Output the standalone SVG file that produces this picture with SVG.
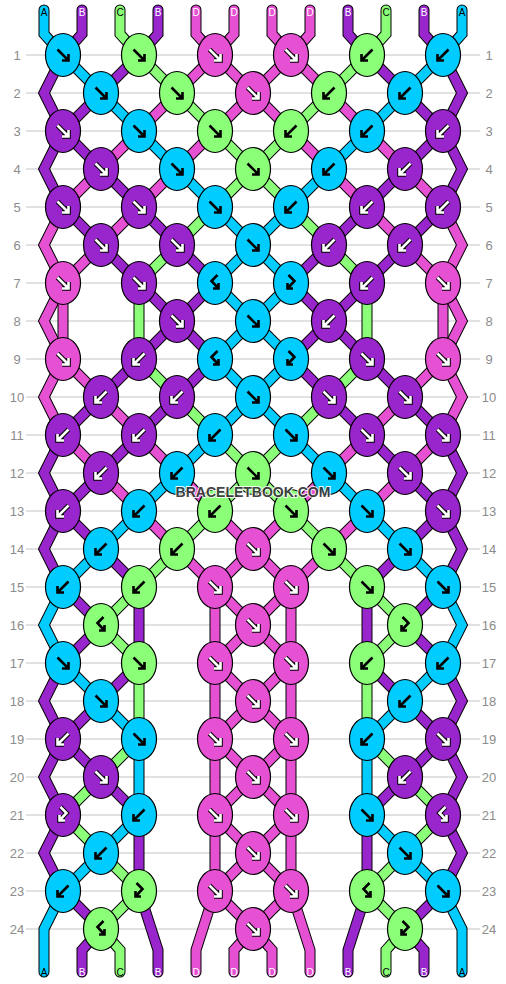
<svg xmlns="http://www.w3.org/2000/svg" xmlns:xlink="http://www.w3.org/1999/xlink" width="506" height="984" viewBox="0 0 506 984">
<style>
.rl{stroke:#c4c4c4;stroke-width:1;fill:none}
.num{font-family:"Liberation Sans",Arial,sans-serif;font-size:13px;fill:#8c8c8c;text-anchor:middle}
.o{fill:none;stroke:#000;stroke-width:11;stroke-linecap:round;stroke-linejoin:miter}
.sA,.sB,.sC,.sD{fill:none;stroke-width:9;stroke-linecap:round;stroke-linejoin:miter}
.sA{stroke:#00ccff}.sB{stroke:#9926cc}.sC{stroke:#8cff78}.sD{stroke:#e650d2}
.kA{fill:#00ccff}.kB{fill:#9926cc}.kC{fill:#8cff78}.kD{fill:#e650d2}
.ak{fill:none;stroke:#000;stroke-width:2.6;stroke-linejoin:miter}
.ao{fill:none;stroke:#000;stroke-width:4.6;stroke-linejoin:miter}
.aw{fill:none;stroke:#fff;stroke-width:2.6;stroke-linejoin:miter}
.lb{font-family:"Liberation Sans",Arial,sans-serif;font-size:10px;text-anchor:middle}
.lk{fill:#000}.lw{fill:#fff}
.wm{font-family:"Liberation Sans",Arial,sans-serif;font-weight:bold;font-size:14px;text-anchor:middle;fill:#333;stroke:#fff;stroke-width:2;paint-order:stroke;opacity:0.9}
</style>
<defs>
<ellipse id="e" rx="17.5" ry="21.5" stroke="#000" stroke-width="1.2"/>
<path id="pf" d="M-5.5,-5.5 L5.5,5.5 M5.5,-1 L5.5,5.5 L-1,5.5"/>
<path id="pb" d="M5.5,-5.5 L-5.5,5.5 M-5.5,-1 L-5.5,5.5 L1,5.5"/>
<path id="pfb" d="M-2.5,-8 L3.5,-2 L-3.5,5.5 M-3.5,0 L-3.5,5.5 L2,5.5"/>
<path id="pbf" d="M2.5,-8 L-3.5,-2 L3.5,5.5 M3.5,0 L3.5,5.5 L-2,5.5"/>
<g id="fK"><use href="#pf" class="ak"/></g>
<g id="bK"><use href="#pb" class="ak"/></g>
<g id="fbK"><use href="#pfb" class="ak"/></g>
<g id="bfK"><use href="#pbf" class="ak"/></g>
<g id="fW"><use href="#pf" class="ao"/><use href="#pf" class="aw"/></g>
<g id="bW"><use href="#pb" class="ao"/><use href="#pb" class="aw"/></g>
<g id="fbW"><use href="#pfb" class="ao"/><use href="#pfb" class="aw"/></g>
<g id="bfW"><use href="#pbf" class="ao"/><use href="#pbf" class="aw"/></g>
</defs>
<rect width="506" height="984" fill="#fff"/>
<g id="grid">
<path class="rl" d="M26,55H480M26,93H480M26,131H480M26,169H480M26,207H480M26,245H480M26,283H480M26,321H480M26,359H480M26,397H480M26,435H480M26,473H480M26,511H480M26,549H480M26,587H480M26,625H480M26,663H480M26,701H480M26,739H480M26,777H480M26,815H480M26,853H480M26,891H480M26,929H480"/>
<g class="num">
<text x="17" y="59.5">1</text><text x="17" y="97.5">2</text><text x="17" y="135.5">3</text><text x="17" y="173.5">4</text><text x="17" y="211.5">5</text><text x="17" y="249.5">6</text><text x="17" y="287.5">7</text><text x="17" y="325.5">8</text><text x="17" y="363.5">9</text><text x="17" y="401.5">10</text><text x="17" y="439.5">11</text><text x="17" y="477.5">12</text><text x="17" y="515.5">13</text><text x="17" y="553.5">14</text><text x="17" y="591.5">15</text><text x="17" y="629.5">16</text><text x="17" y="667.5">17</text><text x="17" y="705.5">18</text><text x="17" y="743.5">19</text><text x="17" y="781.5">20</text><text x="17" y="819.5">21</text><text x="17" y="857.5">22</text><text x="17" y="895.5">23</text><text x="17" y="933.5">24</text>
<text x="489" y="59.5">1</text><text x="489" y="97.5">2</text><text x="489" y="135.5">3</text><text x="489" y="173.5">4</text><text x="489" y="211.5">5</text><text x="489" y="249.5">6</text><text x="489" y="287.5">7</text><text x="489" y="325.5">8</text><text x="489" y="363.5">9</text><text x="489" y="401.5">10</text><text x="489" y="439.5">11</text><text x="489" y="477.5">12</text><text x="489" y="515.5">13</text><text x="489" y="553.5">14</text><text x="489" y="591.5">15</text><text x="489" y="629.5">16</text><text x="489" y="667.5">17</text><text x="489" y="705.5">18</text><text x="489" y="743.5">19</text><text x="489" y="781.5">20</text><text x="489" y="819.5">21</text><text x="489" y="857.5">22</text><text x="489" y="895.5">23</text><text x="489" y="933.5">24</text>
</g>
</g>
<g id="connectors">
<g id="s0">
<path class="o" d="M44,10 L44,34 L63,55 L44,93 L63,131 L44,169 L63,207 L44,245 L63,283 L44,321 L63,359 L44,397 L63,435 L44,473 L63,511 L44,549 L63,587 L44,625 L63,663 L44,701 L63,739 L44,777 L63,815 L44,853 L63,891 L44,929 L44,972"/>
<path class="sA" d="M44,10 L44,34 L63,55 M63,587 L44,625 L63,663 M63,891 L44,929 L44,972"/>
<path class="sB" d="M63,55 L44,93 L63,131 L44,169 L63,207 M63,435 L44,473 L63,511 L44,549 L63,587 M63,663 L44,701 L63,739 L44,777 L63,815 L44,853 L63,891"/>
<path class="sD" d="M63,207 L44,245 L63,283 L44,321 L63,359 L44,397 L63,435"/>
</g>
<g id="s1">
<path class="o" d="M82,10 L82,34 L63,55 L101,93 L63,131 L101,169 L63,207 L101,245 L63,283 L63,359 L101,397 L63,435 L101,473 L63,511 L101,549 L63,587 L101,625 L63,663 L101,701 L63,739 L101,777 L63,815 L101,853 L63,891 L101,929 L82,950 L82,972"/>
<path class="sB" d="M82,10 L82,34 L63,55 M101,93 L63,131 L101,169 M63,207 L101,245 M101,397 L63,435 M101,473 L63,511 L101,549 M63,587 L101,625 L63,663 M101,701 L63,739 L101,777 M63,891 L101,929 L82,950 L82,972"/>
<path class="sA" d="M63,55 L101,93 M101,549 L63,587 M63,663 L101,701 M101,853 L63,891"/>
<path class="sD" d="M101,169 L63,207 M101,245 L63,283 L63,359 L101,397 M63,435 L101,473"/>
<path class="sC" d="M101,777 L63,815 L101,853"/>
</g>
<g id="s2">
<path class="o" d="M120,10 L120,34 L139,55 L101,93 L139,131 L101,169 L139,207 L101,245 L139,283 L139,359 L101,397 L139,435 L101,473 L139,511 L101,549 L139,587 L101,625 L139,663 L101,701 L139,739 L101,777 L139,815 L101,853 L139,891 L101,929 L120,950 L120,972"/>
<path class="sC" d="M120,10 L120,34 L139,55 M139,283 L139,359 M139,587 L101,625 L139,663 M139,739 L101,777 M101,853 L139,891 L101,929 L120,950 L120,972"/>
<path class="sB" d="M139,55 L101,93 M101,169 L139,207 M101,245 L139,283 M139,359 L101,397 M139,435 L101,473 M101,549 L139,587 M139,663 L101,701 M101,777 L139,815"/>
<path class="sA" d="M101,93 L139,131 M139,511 L101,549 M101,701 L139,739 M139,815 L101,853"/>
<path class="sD" d="M139,131 L101,169 M139,207 L101,245 M101,397 L139,435 M101,473 L139,511"/>
</g>
<g id="s3">
<path class="o" d="M158,10 L158,34 L139,55 L177,93 L139,131 L177,169 L139,207 L177,245 L139,283 L177,321 L139,359 L177,397 L139,435 L177,473 L139,511 L177,549 L139,587 L139,891 L158,950 L158,972"/>
<path class="sB" d="M158,10 L158,34 L139,55 M139,207 L177,245 M139,283 L177,321 L139,359 M177,397 L139,435 M139,587 L139,663 M139,815 L139,891 L158,950 L158,972"/>
<path class="sC" d="M139,55 L177,93 M177,245 L139,283 M139,359 L177,397 M177,549 L139,587 M139,663 L139,739"/>
<path class="sD" d="M177,93 L139,131 M177,169 L139,207 M139,435 L177,473 M139,511 L177,549"/>
<path class="sA" d="M139,131 L177,169 M177,473 L139,511 M139,739 L139,815"/>
</g>
<g id="s4">
<path class="o" d="M196,10 L196,34 L215,55 L177,93 L215,131 L177,169 L215,207 L177,245 L215,283 L177,321 L215,359 L177,397 L215,435 L177,473 L215,511 L177,549 L215,587 L215,891 L196,950 L196,972"/>
<path class="sD" d="M196,10 L196,34 L215,55 L177,93 M215,131 L177,169 M177,473 L215,511 M177,549 L215,587 L215,891 L196,950 L196,972"/>
<path class="sC" d="M177,93 L215,131 M215,207 L177,245 M177,397 L215,435 M215,511 L177,549"/>
<path class="sA" d="M177,169 L215,207 M215,435 L177,473"/>
<path class="sB" d="M177,245 L215,283 L177,321 L215,359 L177,397"/>
</g>
<g id="s5">
<path class="o" d="M234,10 L234,34 L215,55 L253,93 L215,131 L253,169 L215,207 L253,245 L215,283 L253,321 L215,359 L253,397 L215,435 L253,473 L215,511 L253,549 L215,587 L253,625 L215,663 L253,701 L215,739 L253,777 L215,815 L253,853 L215,891 L253,929 L234,950 L234,972"/>
<path class="sD" d="M234,10 L234,34 L215,55 L253,93 L215,131 M215,511 L253,549 L215,587 L253,625 L215,663 L253,701 L215,739 L253,777 L215,815 L253,853 L215,891 L253,929 L234,950 L234,972"/>
<path class="sC" d="M215,131 L253,169 L215,207 M215,435 L253,473 L215,511"/>
<path class="sA" d="M215,207 L253,245 L215,283 L253,321 L215,359 L253,397 L215,435"/>
</g>
<g id="s6">
<path class="o" d="M272,10 L272,34 L291,55 L253,93 L291,131 L253,169 L291,207 L253,245 L291,283 L253,321 L291,359 L253,397 L291,435 L253,473 L291,511 L253,549 L291,587 L253,625 L291,663 L253,701 L291,739 L253,777 L291,815 L253,853 L291,891 L253,929 L272,950 L272,972"/>
<path class="sD" d="M272,10 L272,34 L291,55 L253,93 L291,131 M291,511 L253,549 L291,587 L253,625 L291,663 L253,701 L291,739 L253,777 L291,815 L253,853 L291,891 L253,929 L272,950 L272,972"/>
<path class="sC" d="M291,131 L253,169 L291,207 M291,435 L253,473 L291,511"/>
<path class="sA" d="M291,207 L253,245 L291,283 L253,321 L291,359 L253,397 L291,435"/>
</g>
<g id="s7">
<path class="o" d="M310,10 L310,34 L291,55 L329,93 L291,131 L329,169 L291,207 L329,245 L291,283 L329,321 L291,359 L329,397 L291,435 L329,473 L291,511 L329,549 L291,587 L291,891 L310,950 L310,972"/>
<path class="sD" d="M310,10 L310,34 L291,55 L329,93 M291,131 L329,169 M329,473 L291,511 M329,549 L291,587 L291,891 L310,950 L310,972"/>
<path class="sC" d="M329,93 L291,131 M291,207 L329,245 M329,397 L291,435 M291,511 L329,549"/>
<path class="sA" d="M329,169 L291,207 M291,435 L329,473"/>
<path class="sB" d="M329,245 L291,283 L329,321 L291,359 L329,397"/>
</g>
<g id="s8">
<path class="o" d="M348,10 L348,34 L367,55 L329,93 L367,131 L329,169 L367,207 L329,245 L367,283 L329,321 L367,359 L329,397 L367,435 L329,473 L367,511 L329,549 L367,587 L367,891 L348,950 L348,972"/>
<path class="sB" d="M348,10 L348,34 L367,55 M367,207 L329,245 M367,283 L329,321 L367,359 M329,397 L367,435 M367,587 L367,663 M367,815 L367,891 L348,950 L348,972"/>
<path class="sC" d="M367,55 L329,93 M329,245 L367,283 M367,359 L329,397 M329,549 L367,587 M367,663 L367,739"/>
<path class="sD" d="M329,93 L367,131 M329,169 L367,207 M367,435 L329,473 M367,511 L329,549"/>
<path class="sA" d="M367,131 L329,169 M329,473 L367,511 M367,739 L367,815"/>
</g>
<g id="s9">
<path class="o" d="M386,10 L386,34 L367,55 L405,93 L367,131 L405,169 L367,207 L405,245 L367,283 L367,359 L405,397 L367,435 L405,473 L367,511 L405,549 L367,587 L405,625 L367,663 L405,701 L367,739 L405,777 L367,815 L405,853 L367,891 L405,929 L386,950 L386,972"/>
<path class="sC" d="M386,10 L386,34 L367,55 M367,283 L367,359 M367,587 L405,625 L367,663 M367,739 L405,777 M405,853 L367,891 L405,929 L386,950 L386,972"/>
<path class="sB" d="M367,55 L405,93 M405,169 L367,207 M405,245 L367,283 M367,359 L405,397 M367,435 L405,473 M405,549 L367,587 M367,663 L405,701 M405,777 L367,815"/>
<path class="sA" d="M405,93 L367,131 M367,511 L405,549 M405,701 L367,739 M367,815 L405,853"/>
<path class="sD" d="M367,131 L405,169 M367,207 L405,245 M405,397 L367,435 M405,473 L367,511"/>
</g>
<g id="s10">
<path class="o" d="M424,10 L424,34 L443,55 L405,93 L443,131 L405,169 L443,207 L405,245 L443,283 L443,359 L405,397 L443,435 L405,473 L443,511 L405,549 L443,587 L405,625 L443,663 L405,701 L443,739 L405,777 L443,815 L405,853 L443,891 L405,929 L424,950 L424,972"/>
<path class="sB" d="M424,10 L424,34 L443,55 M405,93 L443,131 L405,169 M443,207 L405,245 M405,397 L443,435 M405,473 L443,511 L405,549 M443,587 L405,625 L443,663 M405,701 L443,739 L405,777 M443,891 L405,929 L424,950 L424,972"/>
<path class="sA" d="M443,55 L405,93 M405,549 L443,587 M443,663 L405,701 M405,853 L443,891"/>
<path class="sD" d="M405,169 L443,207 M405,245 L443,283 L443,359 L405,397 M443,435 L405,473"/>
<path class="sC" d="M405,777 L443,815 L405,853"/>
</g>
<g id="s11">
<path class="o" d="M462,10 L462,34 L443,55 L462,93 L443,131 L462,169 L443,207 L462,245 L443,283 L462,321 L443,359 L462,397 L443,435 L462,473 L443,511 L462,549 L443,587 L462,625 L443,663 L462,701 L443,739 L462,777 L443,815 L462,853 L443,891 L462,929 L462,972"/>
<path class="sA" d="M462,10 L462,34 L443,55 M443,587 L462,625 L443,663 M443,891 L462,929 L462,972"/>
<path class="sB" d="M443,55 L462,93 L443,131 L462,169 L443,207 M443,435 L462,473 L443,511 L462,549 L443,587 M443,663 L462,701 L443,739 L462,777 L443,815 L462,853 L443,891"/>
<path class="sD" d="M443,207 L462,245 L443,283 L462,321 L443,359 L462,397 L443,435"/>
</g>
</g>
<g id="labels" class="lb">
<text class="lk" x="44" y="16">A</text><text class="lw" x="82" y="16">B</text><text class="lk" x="120" y="16">C</text><text class="lw" x="158" y="16">B</text><text class="lw" x="196" y="16">D</text><text class="lw" x="234" y="16">D</text><text class="lw" x="272" y="16">D</text><text class="lw" x="310" y="16">D</text><text class="lw" x="348" y="16">B</text><text class="lk" x="386" y="16">C</text><text class="lw" x="424" y="16">B</text><text class="lk" x="462" y="16">A</text>
<text class="lk" x="44" y="976">A</text><text class="lw" x="82" y="976">B</text><text class="lk" x="120" y="976">C</text><text class="lw" x="158" y="976">B</text><text class="lw" x="196" y="976">D</text><text class="lw" x="234" y="976">D</text><text class="lw" x="272" y="976">D</text><text class="lw" x="310" y="976">D</text><text class="lw" x="348" y="976">B</text><text class="lk" x="386" y="976">C</text><text class="lw" x="424" y="976">B</text><text class="lk" x="462" y="976">A</text>
</g>
<g id="knots">
<g id="k1-1" transform="translate(63,55)"><use href="#e" class="kA"/><use href="#fK"/></g>
<g id="k1-2" transform="translate(139,55)"><use href="#e" class="kC"/><use href="#fK"/></g>
<g id="k1-3" transform="translate(215,55)"><use href="#e" class="kD"/><use href="#fW"/></g>
<g id="k1-4" transform="translate(291,55)"><use href="#e" class="kD"/><use href="#fW"/></g>
<g id="k1-5" transform="translate(367,55)"><use href="#e" class="kC"/><use href="#bK"/></g>
<g id="k1-6" transform="translate(443,55)"><use href="#e" class="kA"/><use href="#bK"/></g>
<g id="k2-1" transform="translate(101,93)"><use href="#e" class="kA"/><use href="#fK"/></g>
<g id="k2-2" transform="translate(177,93)"><use href="#e" class="kC"/><use href="#fK"/></g>
<g id="k2-3" transform="translate(253,93)"><use href="#e" class="kD"/><use href="#fW"/></g>
<g id="k2-4" transform="translate(329,93)"><use href="#e" class="kC"/><use href="#bK"/></g>
<g id="k2-5" transform="translate(405,93)"><use href="#e" class="kA"/><use href="#bK"/></g>
<g id="k3-1" transform="translate(63,131)"><use href="#e" class="kB"/><use href="#fW"/></g>
<g id="k3-2" transform="translate(139,131)"><use href="#e" class="kA"/><use href="#fK"/></g>
<g id="k3-3" transform="translate(215,131)"><use href="#e" class="kC"/><use href="#fK"/></g>
<g id="k3-4" transform="translate(291,131)"><use href="#e" class="kC"/><use href="#bK"/></g>
<g id="k3-5" transform="translate(367,131)"><use href="#e" class="kA"/><use href="#bK"/></g>
<g id="k3-6" transform="translate(443,131)"><use href="#e" class="kB"/><use href="#bW"/></g>
<g id="k4-1" transform="translate(101,169)"><use href="#e" class="kB"/><use href="#fW"/></g>
<g id="k4-2" transform="translate(177,169)"><use href="#e" class="kA"/><use href="#fK"/></g>
<g id="k4-3" transform="translate(253,169)"><use href="#e" class="kC"/><use href="#fK"/></g>
<g id="k4-4" transform="translate(329,169)"><use href="#e" class="kA"/><use href="#bK"/></g>
<g id="k4-5" transform="translate(405,169)"><use href="#e" class="kB"/><use href="#bW"/></g>
<g id="k5-1" transform="translate(63,207)"><use href="#e" class="kB"/><use href="#fW"/></g>
<g id="k5-2" transform="translate(139,207)"><use href="#e" class="kB"/><use href="#fW"/></g>
<g id="k5-3" transform="translate(215,207)"><use href="#e" class="kA"/><use href="#fK"/></g>
<g id="k5-4" transform="translate(291,207)"><use href="#e" class="kA"/><use href="#bK"/></g>
<g id="k5-5" transform="translate(367,207)"><use href="#e" class="kB"/><use href="#bW"/></g>
<g id="k5-6" transform="translate(443,207)"><use href="#e" class="kB"/><use href="#bW"/></g>
<g id="k6-1" transform="translate(101,245)"><use href="#e" class="kB"/><use href="#fW"/></g>
<g id="k6-2" transform="translate(177,245)"><use href="#e" class="kB"/><use href="#fW"/></g>
<g id="k6-3" transform="translate(253,245)"><use href="#e" class="kA"/><use href="#fK"/></g>
<g id="k6-4" transform="translate(329,245)"><use href="#e" class="kB"/><use href="#bW"/></g>
<g id="k6-5" transform="translate(405,245)"><use href="#e" class="kB"/><use href="#bW"/></g>
<g id="k7-1" transform="translate(63,283)"><use href="#e" class="kD"/><use href="#fW"/></g>
<g id="k7-2" transform="translate(139,283)"><use href="#e" class="kB"/><use href="#fW"/></g>
<g id="k7-3" transform="translate(215,283)"><use href="#e" class="kA"/><use href="#bfK"/></g>
<g id="k7-4" transform="translate(291,283)"><use href="#e" class="kA"/><use href="#fbK"/></g>
<g id="k7-5" transform="translate(367,283)"><use href="#e" class="kB"/><use href="#bW"/></g>
<g id="k7-6" transform="translate(443,283)"><use href="#e" class="kD"/><use href="#fW"/></g>
<g id="k8-2" transform="translate(177,321)"><use href="#e" class="kB"/><use href="#fW"/></g>
<g id="k8-3" transform="translate(253,321)"><use href="#e" class="kA"/><use href="#fK"/></g>
<g id="k8-4" transform="translate(329,321)"><use href="#e" class="kB"/><use href="#bW"/></g>
<g id="k9-1" transform="translate(63,359)"><use href="#e" class="kD"/><use href="#fW"/></g>
<g id="k9-2" transform="translate(139,359)"><use href="#e" class="kB"/><use href="#bW"/></g>
<g id="k9-3" transform="translate(215,359)"><use href="#e" class="kA"/><use href="#bfK"/></g>
<g id="k9-4" transform="translate(291,359)"><use href="#e" class="kA"/><use href="#fbK"/></g>
<g id="k9-5" transform="translate(367,359)"><use href="#e" class="kB"/><use href="#fW"/></g>
<g id="k9-6" transform="translate(443,359)"><use href="#e" class="kD"/><use href="#fW"/></g>
<g id="k10-1" transform="translate(101,397)"><use href="#e" class="kB"/><use href="#bW"/></g>
<g id="k10-2" transform="translate(177,397)"><use href="#e" class="kB"/><use href="#bW"/></g>
<g id="k10-3" transform="translate(253,397)"><use href="#e" class="kA"/><use href="#fK"/></g>
<g id="k10-4" transform="translate(329,397)"><use href="#e" class="kB"/><use href="#fW"/></g>
<g id="k10-5" transform="translate(405,397)"><use href="#e" class="kB"/><use href="#fW"/></g>
<g id="k11-1" transform="translate(63,435)"><use href="#e" class="kB"/><use href="#bW"/></g>
<g id="k11-2" transform="translate(139,435)"><use href="#e" class="kB"/><use href="#bW"/></g>
<g id="k11-3" transform="translate(215,435)"><use href="#e" class="kA"/><use href="#bK"/></g>
<g id="k11-4" transform="translate(291,435)"><use href="#e" class="kA"/><use href="#fK"/></g>
<g id="k11-5" transform="translate(367,435)"><use href="#e" class="kB"/><use href="#fW"/></g>
<g id="k11-6" transform="translate(443,435)"><use href="#e" class="kB"/><use href="#fW"/></g>
<g id="k12-1" transform="translate(101,473)"><use href="#e" class="kB"/><use href="#bW"/></g>
<g id="k12-2" transform="translate(177,473)"><use href="#e" class="kA"/><use href="#bK"/></g>
<g id="k12-3" transform="translate(253,473)"><use href="#e" class="kC"/><use href="#fK"/></g>
<g id="k12-4" transform="translate(329,473)"><use href="#e" class="kA"/><use href="#fK"/></g>
<g id="k12-5" transform="translate(405,473)"><use href="#e" class="kB"/><use href="#fW"/></g>
<g id="k13-1" transform="translate(63,511)"><use href="#e" class="kB"/><use href="#bW"/></g>
<g id="k13-2" transform="translate(139,511)"><use href="#e" class="kA"/><use href="#bK"/></g>
<g id="k13-3" transform="translate(215,511)"><use href="#e" class="kC"/><use href="#bK"/></g>
<g id="k13-4" transform="translate(291,511)"><use href="#e" class="kC"/><use href="#fK"/></g>
<g id="k13-5" transform="translate(367,511)"><use href="#e" class="kA"/><use href="#fK"/></g>
<g id="k13-6" transform="translate(443,511)"><use href="#e" class="kB"/><use href="#fW"/></g>
<g id="k14-1" transform="translate(101,549)"><use href="#e" class="kA"/><use href="#bK"/></g>
<g id="k14-2" transform="translate(177,549)"><use href="#e" class="kC"/><use href="#bK"/></g>
<g id="k14-3" transform="translate(253,549)"><use href="#e" class="kD"/><use href="#fW"/></g>
<g id="k14-4" transform="translate(329,549)"><use href="#e" class="kC"/><use href="#fK"/></g>
<g id="k14-5" transform="translate(405,549)"><use href="#e" class="kA"/><use href="#fK"/></g>
<g id="k15-1" transform="translate(63,587)"><use href="#e" class="kA"/><use href="#bK"/></g>
<g id="k15-2" transform="translate(139,587)"><use href="#e" class="kC"/><use href="#bK"/></g>
<g id="k15-3" transform="translate(215,587)"><use href="#e" class="kD"/><use href="#fW"/></g>
<g id="k15-4" transform="translate(291,587)"><use href="#e" class="kD"/><use href="#fW"/></g>
<g id="k15-5" transform="translate(367,587)"><use href="#e" class="kC"/><use href="#fK"/></g>
<g id="k15-6" transform="translate(443,587)"><use href="#e" class="kA"/><use href="#fK"/></g>
<g id="k16-1" transform="translate(101,625)"><use href="#e" class="kC"/><use href="#bfK"/></g>
<g id="k16-3" transform="translate(253,625)"><use href="#e" class="kD"/><use href="#fW"/></g>
<g id="k16-5" transform="translate(405,625)"><use href="#e" class="kC"/><use href="#fbK"/></g>
<g id="k17-1" transform="translate(63,663)"><use href="#e" class="kA"/><use href="#fK"/></g>
<g id="k17-2" transform="translate(139,663)"><use href="#e" class="kC"/><use href="#fK"/></g>
<g id="k17-3" transform="translate(215,663)"><use href="#e" class="kD"/><use href="#fW"/></g>
<g id="k17-4" transform="translate(291,663)"><use href="#e" class="kD"/><use href="#fW"/></g>
<g id="k17-5" transform="translate(367,663)"><use href="#e" class="kC"/><use href="#bK"/></g>
<g id="k17-6" transform="translate(443,663)"><use href="#e" class="kA"/><use href="#bK"/></g>
<g id="k18-1" transform="translate(101,701)"><use href="#e" class="kA"/><use href="#fK"/></g>
<g id="k18-3" transform="translate(253,701)"><use href="#e" class="kD"/><use href="#fW"/></g>
<g id="k18-5" transform="translate(405,701)"><use href="#e" class="kA"/><use href="#bK"/></g>
<g id="k19-1" transform="translate(63,739)"><use href="#e" class="kB"/><use href="#bW"/></g>
<g id="k19-2" transform="translate(139,739)"><use href="#e" class="kA"/><use href="#fK"/></g>
<g id="k19-3" transform="translate(215,739)"><use href="#e" class="kD"/><use href="#fW"/></g>
<g id="k19-4" transform="translate(291,739)"><use href="#e" class="kD"/><use href="#fW"/></g>
<g id="k19-5" transform="translate(367,739)"><use href="#e" class="kA"/><use href="#bK"/></g>
<g id="k19-6" transform="translate(443,739)"><use href="#e" class="kB"/><use href="#fW"/></g>
<g id="k20-1" transform="translate(101,777)"><use href="#e" class="kB"/><use href="#fW"/></g>
<g id="k20-3" transform="translate(253,777)"><use href="#e" class="kD"/><use href="#fW"/></g>
<g id="k20-5" transform="translate(405,777)"><use href="#e" class="kB"/><use href="#bW"/></g>
<g id="k21-1" transform="translate(63,815)"><use href="#e" class="kB"/><use href="#fbW"/></g>
<g id="k21-2" transform="translate(139,815)"><use href="#e" class="kA"/><use href="#bK"/></g>
<g id="k21-3" transform="translate(215,815)"><use href="#e" class="kD"/><use href="#fW"/></g>
<g id="k21-4" transform="translate(291,815)"><use href="#e" class="kD"/><use href="#fW"/></g>
<g id="k21-5" transform="translate(367,815)"><use href="#e" class="kA"/><use href="#fK"/></g>
<g id="k21-6" transform="translate(443,815)"><use href="#e" class="kB"/><use href="#bfW"/></g>
<g id="k22-1" transform="translate(101,853)"><use href="#e" class="kA"/><use href="#bK"/></g>
<g id="k22-3" transform="translate(253,853)"><use href="#e" class="kD"/><use href="#fW"/></g>
<g id="k22-5" transform="translate(405,853)"><use href="#e" class="kA"/><use href="#fK"/></g>
<g id="k23-1" transform="translate(63,891)"><use href="#e" class="kA"/><use href="#bK"/></g>
<g id="k23-2" transform="translate(139,891)"><use href="#e" class="kC"/><use href="#fbK"/></g>
<g id="k23-3" transform="translate(215,891)"><use href="#e" class="kD"/><use href="#fW"/></g>
<g id="k23-4" transform="translate(291,891)"><use href="#e" class="kD"/><use href="#fW"/></g>
<g id="k23-5" transform="translate(367,891)"><use href="#e" class="kC"/><use href="#bfK"/></g>
<g id="k23-6" transform="translate(443,891)"><use href="#e" class="kA"/><use href="#fK"/></g>
<g id="k24-1" transform="translate(101,929)"><use href="#e" class="kC"/><use href="#bfK"/></g>
<g id="k24-3" transform="translate(253,929)"><use href="#e" class="kD"/><use href="#fW"/></g>
<g id="k24-5" transform="translate(405,929)"><use href="#e" class="kC"/><use href="#fbK"/></g>
</g>
<text class="wm" x="253" y="497">BRACELETBOOK.COM</text>
</svg>
